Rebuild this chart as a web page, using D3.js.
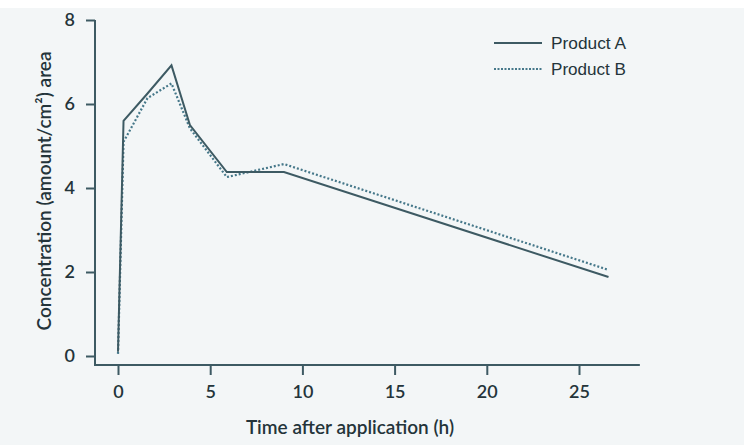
<!DOCTYPE html>
<html>
<head>
<meta charset="utf-8">
<script src="https://cdn.jsdelivr.net/npm/d3@7"></script>
<style>
  body { margin: 0; background: #ffffff; }
  svg { display: block; }
</style>
</head>
<body>
<svg width="744" height="445"></svg>
<script>
// time points (h) and concentrations
const times = [0, 0.3, 1.6, 2.9, 3.9, 5.9, 9, 26.6];
const productA = [0.1, 5.6, 6.25, 6.92, 5.5, 4.38, 4.38, 1.88];
const productB = [0.05, 5.1, 6.14, 6.49, 5.42, 4.26, 4.57, 2.05];
const seriesNames = ["Product A", "Product B"];
const xTicks = [0, 5, 10, 15, 20, 25];
const yTicks = [0, 2, 4, 6, 8];

const svg = d3.select("svg");
const width = +svg.attr("width");
const height = +svg.attr("height");

const lineColor = "#3d5a63";
const dotColor = "#46788a";
const textColor = "#24343a";
const labelFont = "Lato, 'Open Sans', sans-serif";

// background of the scan
svg.append("rect")
    .attr("x", 0).attr("y", 8)
    .attr("width", width).attr("height", height - 8)
    .attr("fill", "#f3f6f7");

const axisX = 95, axisY = 365;

const x = d3.scaleLinear().domain([0, 25]).range([118, 579]);
const y = d3.scaleLinear().domain([0, 8]).range([356, 20]);

// axes
const gx = svg.append("g")
    .attr("transform", `translate(0,${axisY})`)
    .call(d3.axisBottom(x).tickValues(xTicks).tickSize(10).tickPadding(10));

const gy = svg.append("g")
    .attr("transform", `translate(${axisX},0)`)
    .call(d3.axisLeft(y).tickValues(yTicks).tickSize(9).tickPadding(11));

[gx, gy].forEach(g => {
    g.select(".domain").remove();
    g.selectAll("line").attr("stroke", lineColor).attr("stroke-width", 2);
    g.selectAll("text")
        .attr("fill", textColor)
        .style("font-family", labelFont)
        .style("font-size", "18px")
        .style("font-weight", "600");
});

// L-shaped axis lines
svg.append("line")
    .attr("x1", axisX).attr("x2", axisX)
    .attr("y1", y(8)).attr("y2", axisY + 1)
    .attr("stroke", lineColor).attr("stroke-width", 2);
svg.append("line")
    .attr("x1", axisX).attr("x2", x(28.3))
    .attr("y1", axisY).attr("y2", axisY)
    .attr("stroke", lineColor).attr("stroke-width", 2);

// axis titles
svg.append("text")
    .attr("x", 350)
    .attr("y", 434)
    .attr("text-anchor", "middle")
    .attr("fill", textColor)
    .style("font-family", labelFont)
    .style("font-size", "19px")
    .style("font-weight", "600")
    .text("Time after application (h)");

svg.append("text")
    .attr("transform", "translate(51,191) rotate(-90)")
    .attr("text-anchor", "middle")
    .attr("fill", textColor)
    .style("font-family", labelFont)
    .style("font-size", "19px")
    .style("font-weight", "600")
    .text("Concentration (amount/cm²) area");

// lines
const line = d3.line()
    .x((d, i) => x(times[i]))
    .y(d => y(d));

svg.append("path")
    .datum(productB)
    .attr("d", line)
    .attr("fill", "none")
    .attr("stroke", dotColor)
    .attr("stroke-width", 2.2)
    .attr("stroke-dasharray", "2,2");

svg.append("path")
    .datum(productA)
    .attr("d", line)
    .attr("fill", "none")
    .attr("stroke", lineColor)
    .attr("stroke-width", 2)
    .attr("stroke-linejoin", "miter");

// legend
const legend = svg.append("g").attr("transform", "translate(494,43)");
seriesNames.forEach((name, i) => {
    const row = legend.append("g").attr("transform", `translate(0,${i * 26})`);
    row.append("line")
        .attr("x1", 0).attr("x2", 48)
        .attr("stroke", i === 0 ? lineColor : dotColor)
        .attr("stroke-width", 2)
        .attr("stroke-dasharray", i === 0 ? null : "2,1.5");
    row.append("text")
        .attr("x", 57)
        .attr("y", 6)
        .attr("fill", textColor)
        .attr("textLength", 75)
        .attr("lengthAdjust", "spacingAndGlyphs")
        .style("font-family", "'Liberation Sans', Arial, sans-serif")
        .style("font-size", "17px")
        .text(name);
});
</script>
</body>
</html>
